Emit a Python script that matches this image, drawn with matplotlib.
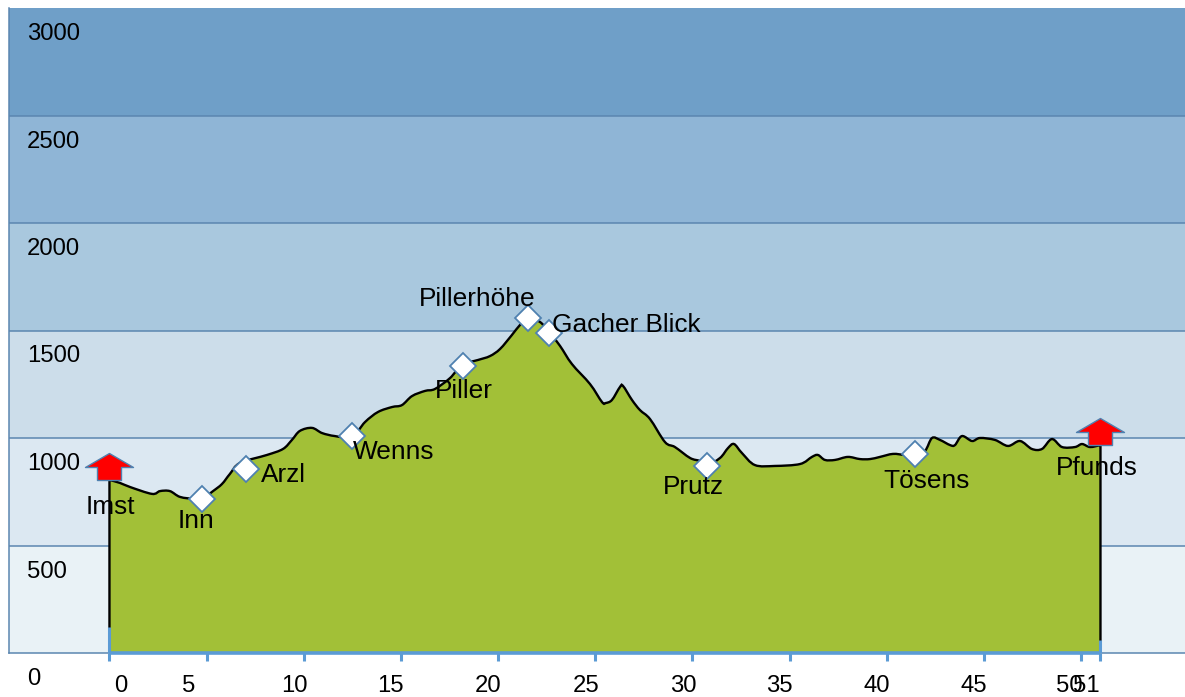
import matplotlib
matplotlib.use("Agg")
import matplotlib.pyplot as plt
from matplotlib.path import Path
from matplotlib.patches import PathPatch
from matplotlib.transforms import ScaledTranslation

plt.rcParams['font.family'] = ['Liberation Sans', 'DejaVu Sans']

# route profile, km / metres
km = [0, 0.54, 1.06, 2.19, 2.6, 3.11, 3.63, 4.4, 4.76, 5.33, 5.79, 6.2, 6.72, 8.1, 8.93, 9.39,
      9.8, 10.42, 10.94, 11.6, 12.48, 13.15, 13.82, 14.54, 15.05, 15.57, 16.24, 16.75, 17.53,
      18.14, 18.97, 19.58, 20.1, 20.71, 21.13, 21.54, 22.15, 22.67, 23.19, 23.8, 24.73, 25.35,
      25.55, 25.86, 26.27, 26.43, 26.89, 27.3, 27.82, 28.59, 29.1, 29.88, 30.39, 30.75, 31.42,
      31.83, 32.14, 32.55, 33.22, 34.25, 35.54, 36.15, 36.46, 36.82, 37.34, 38.0, 38.62, 39.14,
      39.65, 40.32, 40.94, 41.45, 41.97, 42.33, 42.74, 43.26, 43.51, 43.87, 44.39, 44.8, 45.57,
      46.24, 46.86, 47.47, 47.99, 48.5, 49.02, 49.69, 50.05, 50.46, 51]
elev = [805, 791, 772, 740, 753, 753, 726, 716, 716, 753, 786, 833, 884, 921, 949, 991,
        1033, 1047, 1023, 1009, 1005, 1074, 1121, 1144, 1153, 1195, 1219, 1228, 1279,
        1340, 1363, 1381, 1414, 1479, 1526, 1558, 1540, 1488, 1428, 1344, 1251, 1167,
        1163, 1177, 1237, 1242, 1177, 1130, 1088, 981, 958, 907, 893, 874, 907,
        953, 972, 930, 874, 870, 879, 912, 921, 898, 898, 912, 902, 902,
        912, 926, 921, 921, 940, 1000, 991, 967, 967, 1009, 986, 1000, 991,
        963, 986, 949, 949, 995, 958, 958, 972, 958, 967]

place_km = [4.76, 7.02, 12.48, 18.19, 21.54, 22.62, 30.75, 41.45]
place_elev = [716, 856, 1009, 1335, 1558, 1488, 870, 926]

end_km = [0, 51]
end_elev = [805, 967]

label_names = ["Imst", "Inn", "Arzl", "Wenns", "Piller", "Pillerhöhe", "Gacher Blick", "Prutz", "Tösens", "Pfunds"]
label_km = [0.03, 4.45, 8.93, 14.64, 18.24, 18.91, 26.58, 30.03, 42.07, 50.8]
label_elev = [678, 613, 827, 937, 1218, 1646, 1525, 771, 799, 860]

band_edges = [0, 500, 1000, 1500, 2000, 2500, 3000]
band_colors = ["#E9F2F6", "#DCE8F2", "#CCDDEA", "#A9C8DE", "#8FB5D6", "#6F9FC8"]

x_ticks = [0, 5, 10, 15, 20, 25, 30, 35, 40, 45, 50, 51]
x_shift = [11, -18, -9, -10, -10, -9, -9, -10, -10, -10, -12, -14]  # labels sit off their ticks
y_ticks = [0, 500, 1000, 1500, 2000, 2500, 3000]


def smooth_path(xs, ys):
    # bezier through the read points, the original outline is a curve
    verts = [(xs[0], 0), (xs[0], ys[0])]
    codes = [Path.MOVETO, Path.LINETO]
    n = len(xs)
    for i in range(n - 1):
        a = max(i - 1, 0)
        b = min(i + 2, n - 1)
        verts.append((xs[i] + (xs[i + 1] - xs[a]) / 6, ys[i] + (ys[i + 1] - ys[a]) / 6))
        verts.append((xs[i + 1] - (xs[b] - xs[i]) / 6, ys[i + 1] - (ys[b] - ys[i]) / 6))
        verts.append((xs[i + 1], ys[i + 1]))
        codes += [Path.CURVE4, Path.CURVE4, Path.CURVE4]
    verts.append((xs[-1], 0))
    codes.append(Path.LINETO)
    return Path(verts, codes)


fig = plt.figure(figsize=(11.85, 6.97), dpi=100)
ax = fig.add_axes([9 / 1185, 44 / 697, 1176 / 1185, 645 / 697])
ax.set_xlim(-5.17, 55.35)
ax.set_ylim(0, 3000)

for i in range(len(band_colors)):
    ax.axhspan(band_edges[i], band_edges[i + 1], color=band_colors[i], lw=0, zorder=0)
for e in band_edges[1:-1]:
    ax.axhline(e, color="#5B86B0", lw=1.1, zorder=1)

outline = smooth_path(km, elev)
ax.add_patch(PathPatch(outline, fc="#A2C037", ec="none", lw=0, zorder=2))
ax.add_patch(PathPatch(outline, fc="none", ec="black", lw=1.7, zorder=3))

for s in ["top", "right"]:
    ax.spines[s].set_visible(False)
for s in ["left", "bottom"]:
    ax.spines[s].set_color("#5B86B0")
    ax.spines[s].set_linewidth(1.1)

# x axis drawn over the profile and the spine
ax.plot(end_km, [0, 0], color="#5B9BD5", lw=2.6, solid_capstyle="butt", zorder=4, clip_on=False)
ax.plot([0, 0], [0, 121], color="#5B9BD5", lw=2.2, solid_capstyle="butt", zorder=4)
ax.plot([51, 51], [0, 60], color="#5B9BD5", lw=2.2, solid_capstyle="butt", zorder=4)
ax.set_axisbelow(False)

ax.set_xticks(x_ticks, [str(t) for t in x_ticks])
ax.tick_params(axis="x", length=6, width=2.2, color="#5B9BD5", labelsize=17.2, pad=10)
for lab, dx in zip(ax.get_xticklabels(), x_shift):
    lab.set_transform(lab.get_transform() + ScaledTranslation(dx / 100, 0, fig.dpi_scale_trans))

ax.set_yticks(y_ticks, [str(t) for t in y_ticks])
ax.tick_params(axis="y", length=0, labelsize=17.2, pad=-13)
for lab in ax.get_yticklabels():
    lab.set_ha("left")
    lab.set_transform(lab.get_transform() + ScaledTranslation(0, -23.5 / 100, fig.dpi_scale_trans))

ax.plot(place_km, place_elev, ls="none", marker="D", ms=13.5, mfc="white", mec="#4F81B0", mew=1.3, zorder=5)

arrow = Path([(-12, 0), (12, 0), (12, 13), (24, 13), (0, 27), (-24, 13), (-12, 13), (-12, 0)], closed=True)
ax.plot(end_km, end_elev, ls="none", marker=arrow, ms=54 * 0.72, mfc="#FF0000", mec="#4F81B0", mew=1, zorder=5)

for name, x, y in zip(label_names, label_km, label_elev):
    ax.text(x, y, name, fontsize=18.9, ha="center", va="center", zorder=6)

fig.savefig("out.png", dpi=100)
